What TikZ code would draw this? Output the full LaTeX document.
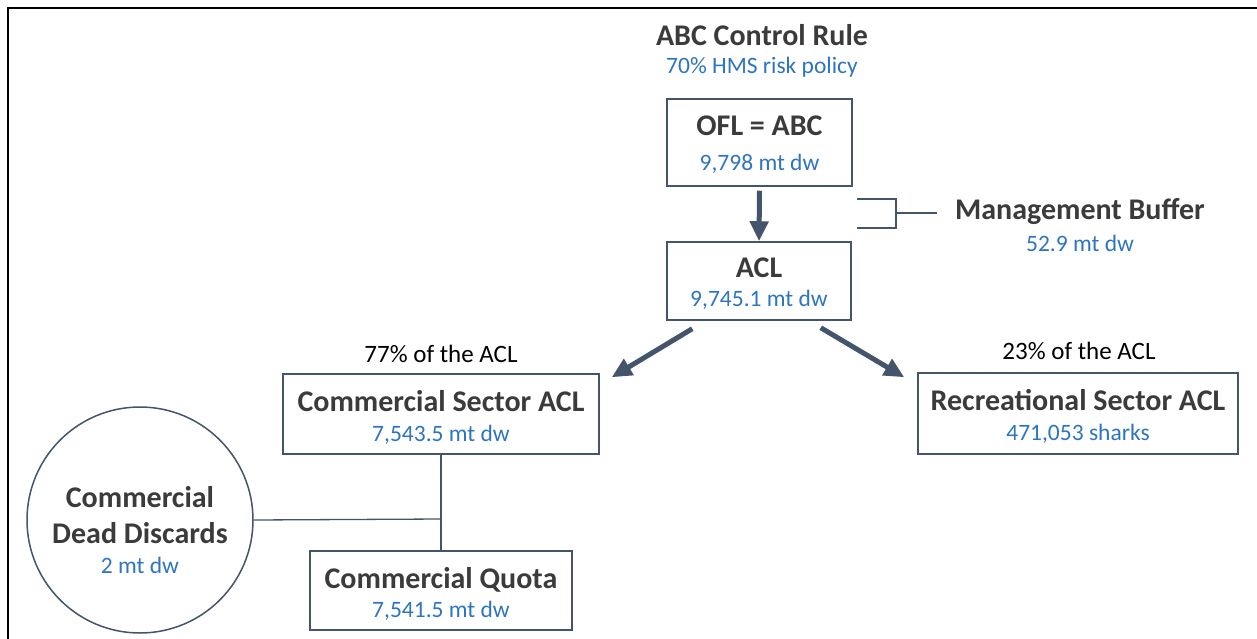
\documentclass[tikz,border=0pt]{standalone}
\usepackage{fontspec}
\setmainfont{Carlito}
\usetikzlibrary{arrows.meta,calc}
\definecolor{slate}{HTML}{44546A}
\definecolor{darktext}{HTML}{3B3B3B}
\definecolor{bluetext}{HTML}{2E75C0}
\newcommand{\bt}[1]{{\bfseries\color{darktext}#1}}
\newcommand{\blt}[1]{{\fontsize{23.5}{31}\selectfont\color{bluetext}#1}}
\newcommand{\topstrut}[1]{\rule{0pt}{#1}}
\tikzset{
  box/.style={draw=slate, line width=1.5pt, inner sep=0pt, align=center, anchor=center,
    font=\fontsize{30}{31}\selectfont},
  conn/.style={draw=slate, line width=1.3pt},
  bigarrow/.style={draw=slate, fill=slate, line width=5pt, -{Triangle[width=18pt,length=20pt]}},
  plain/.style={inner sep=0pt, align=center, font=\fontsize{30}{31}\selectfont},
}
\begin{document}
\begin{tikzpicture}[x=1pt,y=-1pt]
\useasboundingbox (0,0) rectangle (1257,639);
\fill[white] (0,0) rectangle (1257,639);
% frame
\coordinate (fbl) at (8,639);
\coordinate (ftl) at (8,8);
\coordinate (ftr) at (1257,8);
\draw[black, line width=2pt] (fbl) -- (ftl) -- (ftr);

\node[plain] (abc) at (762,35) {\bt{ABC Control Rule}};
\node[plain] (risk) at (762,67) {\blt{70\% HMS risk policy}};

\node[box, minimum width=185pt, minimum height=87pt] (ofl) at (759.5,142.5)
  {\topstrut{25pt}\bt{OFL = ABC}\\[4pt]\blt{9,798 mt dw}};
\node[box, minimum width=184pt, minimum height=78pt] (acl) at (759,281)
  {\topstrut{25pt}\bt{ACL}\\[-2pt]\blt{9,745.1 mt dw}};

\draw[bigarrow] ($(ofl.south)+(0,4)$) -- (acl.north);

% management buffer bracket
\coordinate (b1) at (857,199);
\coordinate (b2) at (896,199);
\coordinate (b3) at (896,228);
\coordinate (b4) at (857,228);
\coordinate (bm) at (896,213);
\node[plain] (mb) at (1080,212) {\bt{Management Buffer}};
\node[plain] (mbv) at (1080,243) {\blt{52.9 mt dw}};
\draw[conn] (b1) -- (b2) -- (b3) -- (b4);
\draw[conn] (bm) -- ($(mb.west)+(-18,1)$);

\node[plain] (p77) at (441,354) {\fontsize{25}{28}\selectfont 77\% of the ACL};
\node[plain] (p23) at (1079,351) {\fontsize{25}{28}\selectfont 23\% of the ACL};

\node[box, minimum width=316pt, minimum height=80pt] (csa) at (441,414)
  {\topstrut{27pt}\bt{Commercial Sector ACL}\\[-1pt]\blt{7,543.5 mt dw}};
\node[box, minimum width=320pt, minimum height=81pt] (rsa) at (1078,413.5)
  {\topstrut{27pt}\bt{Recreational Sector ACL}\\[-1pt]\blt{471,053 sharks}};
\node[box, minimum width=262pt, minimum height=79pt] (cq) at (441,590.5)
  {\topstrut{27pt}\bt{Commercial Quota}\\[-2pt]\blt{7,541.5 mt dw}};
\node[box, circle, minimum size=226pt] (cdd) at (140,520)
  {\topstrut{42pt}\bt{Commercial}\\[5pt]\bt{Dead Discards}\\[-1pt]\blt{2 mt dw}};

\draw[bigarrow] ($(acl.south west)+(26,8)$) -- ($(csa.north east)+(12,4)$);
\draw[bigarrow] ($(acl.south east)+(-31,7)$) -- ($(rsa.north west)+(-13,5)$);

\coordinate (junc) at (441,519);
\draw[conn] (csa.south) -- (cq.north);
\draw[conn] (cdd.east) -- (junc);
\end{tikzpicture}
\end{document}
